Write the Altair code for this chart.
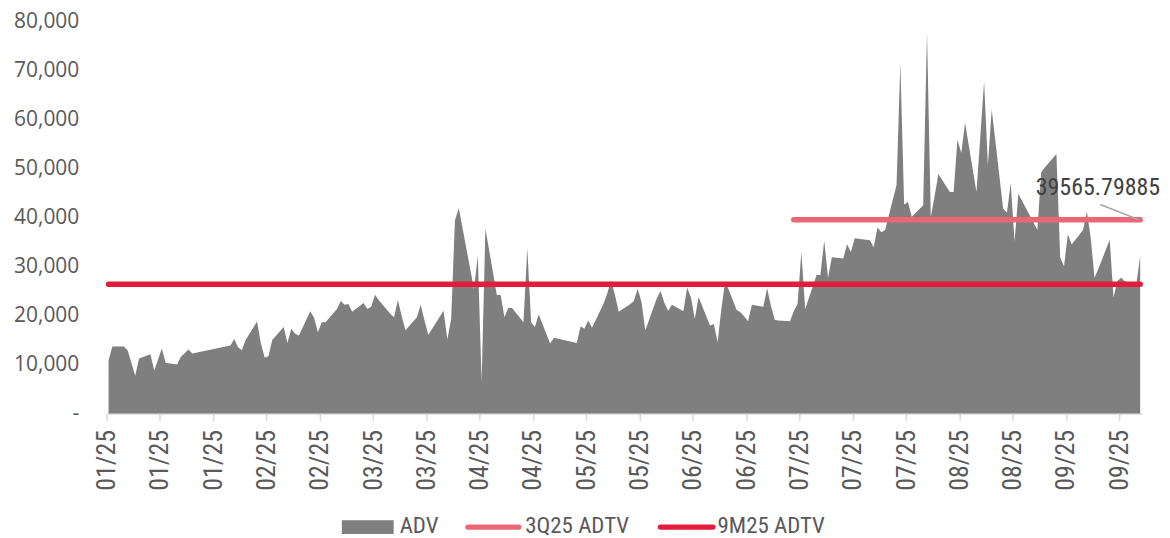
import altair as alt
import pandas as pd

# ---- data (daily ADV, trading days 2025) ----
jan_days = [2, 3, 6, 7, 8, 9, 10, 13, 14, 15, 16, 17, 20, 21, 22, 23, 24]
jan_adv = [10900, 13700, 13700, 12900, 10300, 7700, 11250, 12100, 8750, 11050, 13270, 10370, 10000, 11600, 12300, 13100, 12260]
feb_days = [3, 4, 5, 6, 7, 10, 11, 12, 13, 14, 17, 18, 19, 20, 21, 24, 25, 26, 27, 28]
feb_adv = [13900, 15200, 13600, 12900, 15000, 18800, 14400, 11450, 11700, 15000, 17650, 14400, 17300, 16300, 15950, 20900, 19500, 16600, 18650, 18650]
mar_days = [3, 4, 5, 6, 7, 10, 11, 12, 13, 14, 17, 18, 19, 20, 21, 24, 25, 26, 27, 28, 31]
mar_adv = [21350, 23000, 22200, 22350, 20800, 22550, 21350, 21800, 24250, 23150, 20400, 19650, 23200, 19900, 17000, 19650, 22200, 19000, 16100, 17300, 21000]
apr_days = [1, 2, 3, 4, 8, 9, 10, 11, 14, 15, 16, 17, 18, 21, 22, 23, 24, 25, 28, 29]
apr_adv = [15100, 19300, 39500, 42000, 25400, 32300, 6500, 37800, 24200, 24200, 19650, 21550, 21550, 18650, 33800, 18650, 17650, 20200, 14300, 15500]
may_days = [5, 6, 7, 8, 9, 12, 13, 14, 15, 16, 19, 20, 21, 22, 23, 26, 27, 28, 29, 30]
may_adv = [14400, 17800, 17300, 19000, 17500, 22350, 24500, 27200, 24300, 20800, 22300, 23000, 25500, 22800, 16950, 23500, 25050, 22600, 21000, 22200]
jun_days = [2, 3, 4, 5, 6, 9, 10, 11, 12, 13, 16, 17, 18, 19, 20, 23, 24, 25, 26, 27, 30]
jun_adv = [20900, 25700, 23700, 19300, 23800, 18000, 18300, 14600, 21500, 27050, 21150, 20700, 19800, 18850, 22200, 21800, 25600, 22000, 19100, 19000, 18850]
jul_days = [1, 2, 3, 4, 7, 8, 9, 10, 11, 14, 15, 16, 17, 18, 21, 22, 23, 24, 25, 28, 29, 30, 31]
jul_adv = [20900, 22350, 33000, 21350, 28300, 28300, 35300, 27750, 31900, 31650, 34600, 33000, 35800, 35700, 35400, 33950, 38000, 37050, 37500, 46700, 71500, 42700, 43200]
aug_days = [1, 4, 5, 6, 7, 8, 11, 12, 13, 14, 15, 18, 19, 20, 21, 22, 25, 26, 27, 28, 29]
aug_adv = [40200, 42550, 77900, 40200, 44400, 48950, 45250, 45250, 55900, 53200, 59400, 45250, 56500, 67800, 50650, 62100, 41900, 41000, 47100, 35150, 44900]
sep_days = [3, 4, 5, 8, 9, 10, 11, 12, 15, 16, 17, 18, 19, 22, 23, 24, 25, 26, 29, 30]
sep_adv = [37500, 49300, 50300, 53000, 31800, 30100, 36600, 34500, 37500, 41200, 36000, 27750, 29500, 35500, 23700, 27050, 27750, 26950, 26400, 32100]

# reference lines
adtv_3q25 = 39565.79885
adtv_9m25 = 26400
q3_start, q3_end = "2025-07-01T12:00:00", "2025-09-30T12:00:00"
ytd_start, ytd_end = "2025-01-02T12:00:00", "2025-09-30T12:00:00"
annot_label = "39565.79885"

# axis ticks / labels
tick_dates = ["2025-01-02", "2025-01-16", "2025-01-30", "2025-02-13", "2025-02-27",
              "2025-03-13", "2025-03-27", "2025-04-10", "2025-04-24", "2025-05-08",
              "2025-05-22", "2025-06-05", "2025-06-19", "2025-07-03", "2025-07-17",
              "2025-07-31", "2025-08-14", "2025-08-28", "2025-09-11", "2025-09-25"]
y_ticks = [0, 10000, 20000, 30000, 40000, 50000, 60000, 70000, 80000]
legend_labels = ["ADV", "3Q25 ADTV", "9M25 ADTV"]

# ---- build table ----
months = [(1, jan_days, jan_adv), (2, feb_days, feb_adv), (3, mar_days, mar_adv),
          (4, apr_days, apr_adv), (5, may_days, may_adv), (6, jun_days, jun_adv),
          (7, jul_days, jul_adv), (8, aug_days, aug_adv), (9, sep_days, sep_adv)]
rows = []
for m, days, vals in months:
    for d, v in zip(days, vals):
        rows.append({"date": f"2025-{m:02d}-{d:02d}T12:00:00", "adv": v})
df = pd.DataFrame(rows)

def dt(s):
    y, m, d = [int(p) for p in s.split("-")]
    return alt.DateTime(year=y, month=m, date=d)

GRAY = "#7f7f7f"
PINK = "#EC6677"
RED = "#E31C3D"
TXT = "#595959"
NARROW = "Liberation Sans Narrow, Arial Narrow, Roboto Condensed, DejaVu Sans Condensed, sans-serif"

xscale = alt.Scale(domain=[dt("2025-01-02"), dt("2025-10-01")], nice=False, padding=0)
yscale = alt.Scale(domain=[0, 80000], nice=False, zero=True)

xaxis = alt.Axis(values=[dt(s) for s in tick_dates], format="%m/%y", labelAngle=270,
                 labelFont=NARROW, labelFontSize=26, labelColor=TXT, labelPadding=9,
                 domainColor="#d9d9d9", domainWidth=1.5, tickColor="#d9d9d9", tickWidth=1.5,
                 tickSize=7, grid=False, title=None, labelOverlap=False, labelFlush=False)
yaxis = alt.Axis(values=y_ticks,
                 labelExpr="datum.value == 0 ? '-\u00a0\u00a0' : format(datum.value, ',')",
                 domain=False, ticks=False, tickSize=0, grid=False, title=None,
                 labelFont="Open Sans", labelFontSize=21, labelColor=TXT, labelPadding=28)

area = alt.Chart(df).mark_area(color=GRAY, interpolate="linear").encode(
    x=alt.X("date:T", scale=xscale, axis=xaxis),
    y=alt.Y("adv:Q", scale=yscale, axis=yaxis),
)

lines_df = pd.DataFrame({
    "start": [ytd_start, q3_start],
    "end": [ytd_end, q3_end],
    "value": [adtv_9m25, adtv_3q25],
    "series": ["9M25 ADTV", "3Q25 ADTV"],
})
red_line = alt.Chart(lines_df[lines_df.series == "9M25 ADTV"]).mark_rule(
    color=RED, strokeWidth=5.5, strokeCap="round").encode(
    x="start:T", x2="end:T", y="value:Q")
pink_line = alt.Chart(lines_df[lines_df.series == "3Q25 ADTV"]).mark_rule(
    color=PINK, strokeWidth=5.5, strokeCap="round").encode(
    x="start:T", x2="end:T", y="value:Q")

# annotation (data label with leader line)
annot_df = pd.DataFrame({"date": [q3_end], "value": [adtv_3q25], "label": [annot_label]})
annot_text = alt.Chart(annot_df).mark_text(
    align="right", baseline="alphabetic", dx=20, dy=-25,
    font=NARROW, fontSize=24, color="#404040").encode(
    x="date:T", y="value:Q", text="label:N")
leader_df = pd.DataFrame({"x1": ["2025-09-20T00:00:00"], "x2": ["2025-09-30T04:00:00"],
                          "y1": [42700], "y2": [adtv_3q25]})
leader = alt.Chart(leader_df).mark_rule(color="#a6a6a6", strokeWidth=1.5).encode(
    x="x1:T", x2="x2:T", y="y1:Q", y2="y2:Q")

# legend (manual), positions relative to plot origin
one = pd.DataFrame({"k": [0]})
leg_rect = alt.Chart(one).mark_rect(color=GRAY).encode(
    x=alt.value(236), x2=alt.value(288), y=alt.value(500), y2=alt.value(514))
leg_t1 = alt.Chart(one).mark_text(text=legend_labels[0], align="left", baseline="middle",
                                  font=NARROW, fontSize=23, color=TXT).encode(
    x=alt.value(294), y=alt.value(506))
leg_pink = alt.Chart(one).mark_rule(color=PINK, strokeWidth=5.5, strokeCap="round").encode(
    x=alt.value(362.5), x2=alt.value(413.5), y=alt.value(507))
leg_t2 = alt.Chart(one).mark_text(text=legend_labels[1], align="left", baseline="middle",
                                  font=NARROW, fontSize=23, color=TXT).encode(
    x=alt.value(420), y=alt.value(506))
leg_red = alt.Chart(one).mark_rule(color=RED, strokeWidth=5.5, strokeCap="round").encode(
    x=alt.value(555.7), x2=alt.value(608.3), y=alt.value(507))
leg_t3 = alt.Chart(one).mark_text(text=legend_labels[2], align="left", baseline="middle",
                                  font=NARROW, fontSize=23, color=TXT).encode(
    x=alt.value(613), y=alt.value(506))

chart = alt.layer(
    area, red_line, pink_line, leader, annot_text,
    leg_rect, leg_t1, leg_pink, leg_t2, leg_red, leg_t3,
).properties(
    width=1039, height=393,
    autosize=alt.AutoSizeParams(type="none"),
    padding={"left": 99, "top": 13, "right": 20, "bottom": 124},
    background="white",
).configure_view(stroke=None)

chart.save("out.html", embed_options={"renderer": "svg", "actions": False})
